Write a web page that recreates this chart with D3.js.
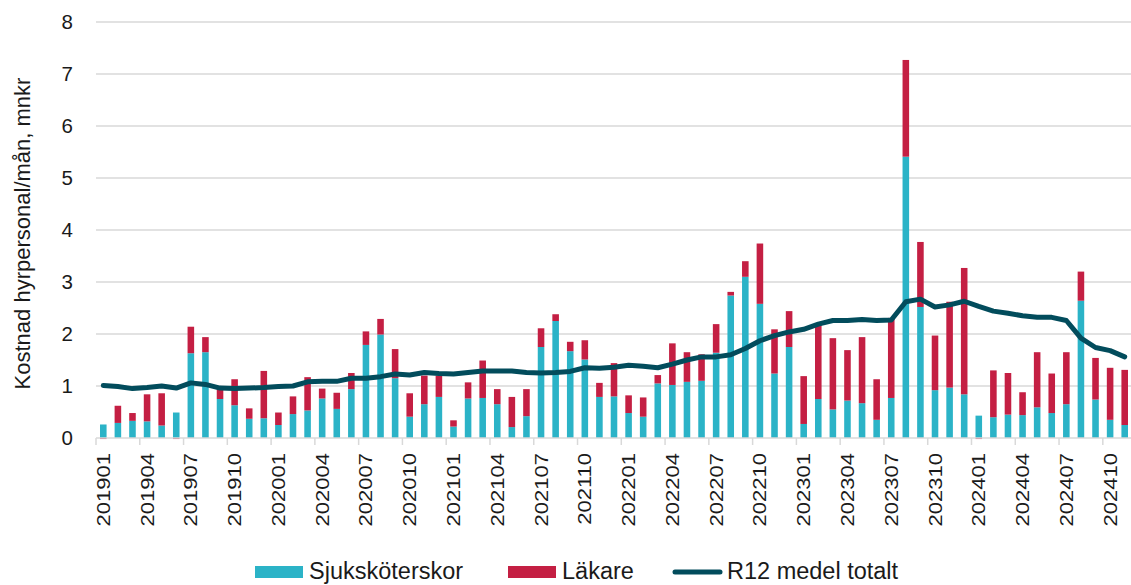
<!DOCTYPE html>
<html lang="sv">
<head>
  <meta charset="UTF-8">
  <title>Kostnad hyrpersonal</title>
  <script src="https://d3js.org/d3.v7.min.js"></script>
  <style>
    body { margin: 0; padding: 0; background: #fff; }
    svg { display: block; font-family: "Liberation Sans", Arial, sans-serif; }
  </style>
</head>
<body>
  <div id="chart"></div>

  <script>
    // months 201901 .. 202411
    const months = [];
    for (let yr = 2019; yr <= 2024; yr++) {
      for (let m = 1; m <= 12; m++) {
        if (yr === 2024 && m === 12) break;
        months.push(`${yr}${String(m).padStart(2, '0')}`);
      }
    }

    const sjukskoterskor = [
      0.26, 0.29, 0.33, 0.32, 0.24, 0.49, 1.63, 1.65, 0.75, 0.63, 0.37, 0.38,
      0.25, 0.46, 0.53, 0.76, 0.56, 0.94, 1.79, 1.99, 1.15, 0.41, 0.65, 0.79,
      0.22, 0.76, 0.77, 0.65, 0.21, 0.42, 1.75, 2.25, 1.67, 1.51, 0.79, 0.80,
      0.48, 0.41, 1.05, 1.02, 1.08, 1.10, 1.64, 2.74, 3.10, 2.58, 1.24, 1.75,
      0.27, 0.75, 0.55, 0.72, 0.67, 0.35, 0.77, 5.41, 2.52, 0.92, 0.97, 0.84,
      0.43, 0.40, 0.45, 0.44, 0.59, 0.48, 0.65, 2.64, 0.74, 0.35, 0.25
    ];
    const lakare = [
      -0.02, 0.33, 0.15, 0.52, 0.62, -0.02, 0.51, 0.29, 0.19, 0.50, 0.20, 0.91,
      0.24, 0.34, 0.64, 0.19, 0.31, 0.31, 0.26, 0.30, 0.56, 0.45, 0.55, 0.41,
      0.12, 0.31, 0.72, 0.29, 0.58, 0.52, 0.36, 0.13, 0.18, 0.37, 0.27, 0.64,
      0.34, 0.37, 0.16, 0.80, 0.57, 0.51, 0.55, 0.07, 0.30, 1.16, 0.85, 0.69,
      0.92, 1.43, 1.37, 0.97, 1.27, 0.78, 1.54, 1.86, 1.25, 1.05, 1.65, 2.43,
      -0.02, 0.90, 0.80, 0.44, 1.06, 0.76, 1.00, 0.56, 0.80, 1.00, 1.06
    ];
    const r12 = [
      1.01, 0.99, 0.95, 0.97, 1.00, 0.96, 1.06, 1.03, 0.96, 0.95, 0.96, 0.97,
      0.99, 1.00, 1.08, 1.09, 1.09, 1.15, 1.15, 1.18, 1.23, 1.21, 1.26, 1.24,
      1.23, 1.26, 1.29, 1.29, 1.29, 1.26, 1.25, 1.26, 1.28, 1.35, 1.34, 1.36,
      1.40, 1.38, 1.35, 1.42, 1.50, 1.56, 1.56, 1.60, 1.72, 1.87, 1.97, 2.04,
      2.09, 2.19, 2.26, 2.26, 2.28, 2.26, 2.27, 2.62, 2.67, 2.52, 2.56, 2.63,
      2.53, 2.44, 2.40, 2.35, 2.32, 2.32, 2.26, 1.92, 1.74, 1.68, 1.56
    ];
    const yTicks = [0, 1, 2, 3, 4, 5, 6, 7, 8];

    const colors = { sjuk: '#2bb3c7', lak: '#c41f43', line: '#024c5c', grid: '#d9d9d9' };

    const width = 1131, height = 585;
    const plotLeft = 96, plotRight = 1132, plotTop = 22, plotBottom = 438;
    const squeeze = 0.85; // month labels in the original are a bit narrow

    const svg = d3.select('#chart').append('svg')
      .attr('width', width).attr('height', height);

    const x = d3.scaleBand().domain(months).range([plotLeft, plotRight])
      .paddingInner(0.55).paddingOuter(0.275);
    const y = d3.scaleLinear().domain([0, 8]).range([plotBottom, plotTop]);
    const gap = (x.step() - x.bandwidth()) / 2;

    // gridlines
    svg.append('g').selectAll('line')
      .data(yTicks.filter(d => d > 0))
      .join('line')
      .attr('x1', plotLeft).attr('x2', width)
      .attr('y1', d => y(d)).attr('y2', d => y(d))
      .attr('stroke', colors.grid).attr('stroke-width', 1.5);

    // y labels
    svg.append('g').selectAll('text')
      .data(yTicks)
      .join('text')
      .attr('x', 73).attr('y', d => y(d))
      .attr('dy', '0.35em')
      .attr('text-anchor', 'end')
      .attr('font-size', 20.5)
      .attr('fill', '#1a1a1a')
      .text(d => d);

    svg.append('text')
      .attr('transform', 'translate(29.5,233.5) rotate(-90)')
      .attr('text-anchor', 'middle')
      .attr('font-size', 22)
      .attr('fill', '#1a1a1a')
      .text('Kostnad hyrpersonal/mån, mnkr');

    // stacked bars
    const rows = months.map((m, i) => ({ month: m, sjuk: sjukskoterskor[i], lak: lakare[i] }));
    const series = d3.stack().keys(['sjuk', 'lak']).offset(d3.stackOffsetDiverging)(rows);

    svg.append('g').selectAll('g')
      .data(series)
      .join('g')
      .attr('fill', d => colors[d.key])
      .selectAll('rect')
      .data(d => d)
      .join('rect')
      .attr('x', d => x(d.data.month))
      .attr('width', x.bandwidth())
      .attr('y', d => y(Math.max(d[0], d[1])))
      .attr('height', d => Math.abs(y(d[0]) - y(d[1])));

    // x axis
    svg.append('line')
      .attr('x1', plotLeft).attr('x2', width)
      .attr('y1', plotBottom).attr('y2', plotBottom)
      .attr('stroke', colors.grid).attr('stroke-width', 1.5);

    const tickMonths = months.filter((m, i) => i % 3 === 0);
    svg.append('g').selectAll('line')
      .data(tickMonths)
      .join('line')
      .attr('x1', d => x(d) - gap).attr('x2', d => x(d) - gap)
      .attr('y1', plotBottom).attr('y2', plotBottom + 7)
      .attr('stroke', colors.grid).attr('stroke-width', 1.5);

    svg.append('g').selectAll('text')
      .data(tickMonths)
      .join('text')
      .attr('transform', d => `translate(${x(d) + x.bandwidth() / 2 + 6.5},453) rotate(-90) scale(1,${squeeze})`)
      .attr('text-anchor', 'end')
      .attr('font-size', 22)
      .attr('fill', '#1a1a1a')
      .text(d => d);

    // R12 line
    const line = d3.line()
      .x((d, i) => x(months[i]) + x.bandwidth() / 2)
      .y(d => y(d));
    svg.append('path')
      .datum(r12)
      .attr('fill', 'none')
      .attr('stroke', colors.line)
      .attr('stroke-width', 5)
      .attr('stroke-linejoin', 'round')
      .attr('stroke-linecap', 'round')
      .attr('d', line);

    // legend
    const lg = svg.append('g').attr('font-size', 23.5).attr('fill', '#1a1a1a');
    lg.append('rect').attr('x', 255).attr('y', 566).attr('width', 48).attr('height', 12).attr('fill', colors.sjuk);
    lg.append('text').attr('x', 309).attr('y', 579).text('Sjuksköterskor');
    lg.append('rect').attr('x', 508).attr('y', 566).attr('width', 48).attr('height', 12).attr('fill', colors.lak);
    lg.append('text').attr('x', 562).attr('y', 579).text('Läkare');
    lg.append('line').attr('x1', 675).attr('x2', 720).attr('y1', 572).attr('y2', 572)
      .attr('stroke', colors.line).attr('stroke-width', 5).attr('stroke-linecap', 'round');
    lg.append('text').attr('x', 727).attr('y', 579).text('R12 medel totalt');
  </script>
</body>
</html>
